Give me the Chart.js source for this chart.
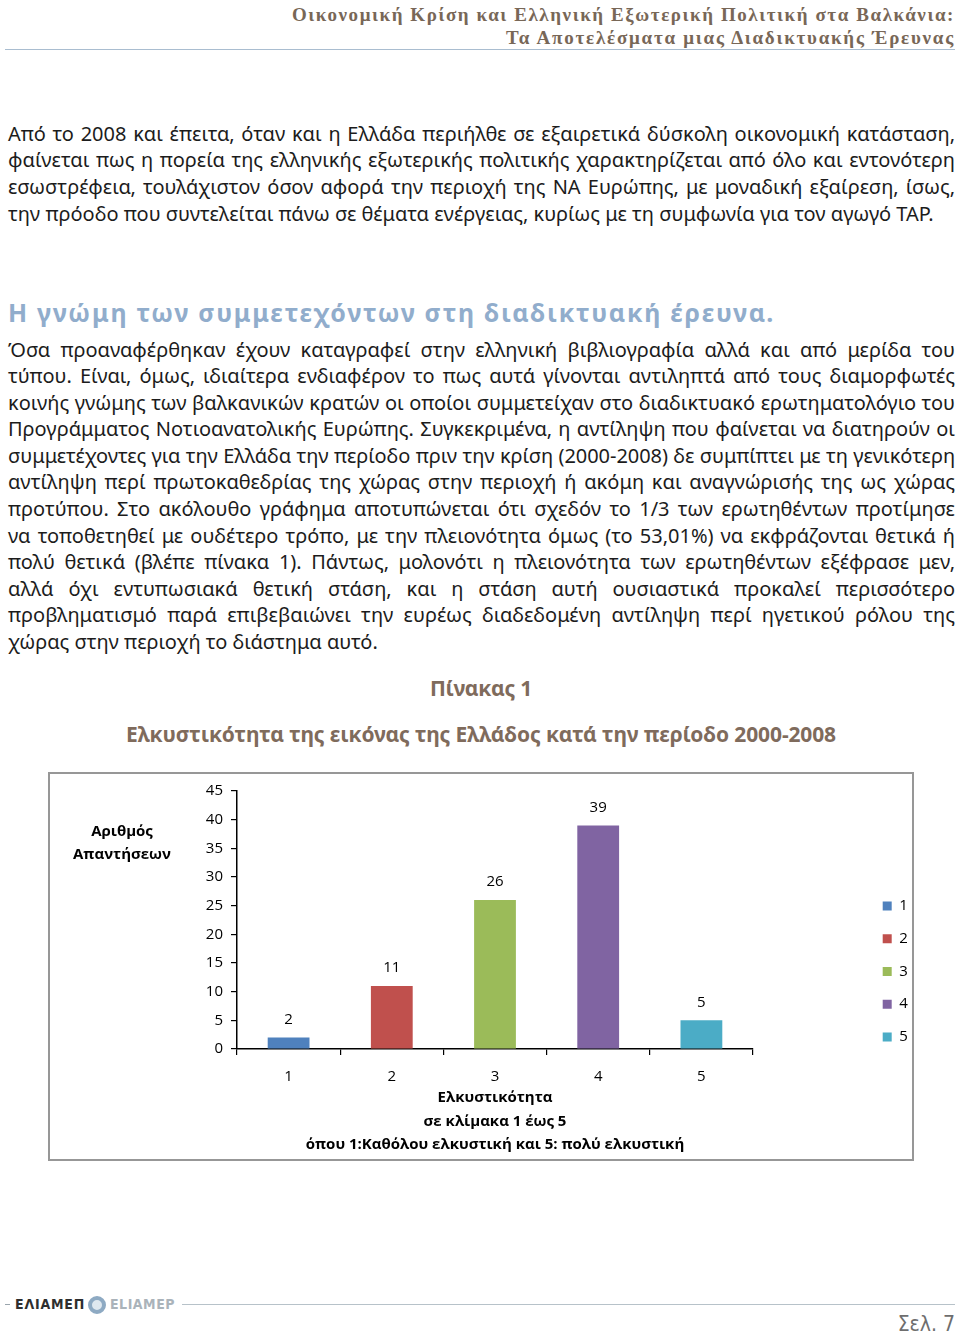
<!DOCTYPE html>
<html lang="el">
<head>
<meta charset="utf-8">
<title>Πίνακας 1</title>
<script src="https://cdn.jsdelivr.net/npm/chart.js@4/dist/chart.umd.min.js"></script>
<style>
  html, body { margin: 0; padding: 0; background: #fff; }
  body { position: relative; width: 960px; height: 1335px; overflow: hidden; }
  .abs { position: absolute; white-space: nowrap; }
  .hdr { right: 5px; font: bold 19px "Liberation Serif", "DejaVu Serif", serif; color: #786757; line-height: 23px; }
  .rule { position: absolute; height: 0; }
  .ln { position: absolute; left: 8px; width: 947px; font: 20px "Noto Sans", sans-serif; color: #1c1c1c;
        line-height: 26.6px; height: 26.6px; white-space: nowrap; text-align: justify; text-align-last: justify; }
  .ln.last { text-align-last: left; }
  .h2 { left: 8px; font: bold 25px "Noto Sans", sans-serif; color: #91adcc; line-height: 32px; }
  .cap { font: bold 21px "Noto Sans", sans-serif; color: #7f6b5c; line-height: 28px; }
  #box { position: absolute; left: 48px; top: 772px; width: 862px; height: 385px; border: 2px solid #979797; }
  #chart { display: block; }
</style>
</head>
<body>

<div class="abs hdr" data-w="663" style="top:3px">Οικονομική Κρίση και Ελληνική Εξωτερική Πολιτική στα Βαλκάνια:</div>
<div class="abs hdr" data-w="449" style="top:26px">Τα Αποτελέσματα μιας Διαδικτυακής Έρευνας</div>
<div class="rule" style="left:5px; width:950px; top:49px; border-top:1.5px solid #a9bdd0"></div>

<div class="abs h2" data-w="767" style="top:296px">Η γνώμη των συμμετεχόντων στη διαδικτυακή έρευνα.</div>

<div class="abs cap" data-w="102" data-cx="481" style="top:674px">Πίνακας 1</div>
<div class="abs cap" data-w="710" data-cx="481" style="top:720px">Ελκυστικότητα της εικόνας της Ελλάδος κατά την περίοδο 2000-2008</div>

<div id="box"><canvas id="chart" width="862" height="385"></canvas></div>

<!-- footer -->
<div class="rule" style="left:5px; width:5px; top:1304px; border-top:1px solid #9aa5ad"></div>
<div class="abs" data-w="70" style="left:15px; top:1295px; font:bold 14px 'DejaVu Sans Condensed','DejaVu Sans',sans-serif; color:#2e2e2e; line-height:18px">ΕΛΙΑΜΕΠ</div>
<div style="position:absolute; left:88px; top:1296px; width:10px; height:10px; border-radius:50%; border:4px solid #8eaac3; background:#dfe8ef"></div>
<div class="abs" data-w="65" style="left:110px; top:1295px; font:bold 14px 'DejaVu Sans Condensed','DejaVu Sans',sans-serif; color:#aab3ba; line-height:18px">ELIAMEP</div>
<div class="rule" style="left:182px; width:773px; top:1304px; border-top:1px solid #b7c2c9"></div>
<div class="abs" style="right:5px; top:1311px; font:21px 'DejaVu Sans Condensed','DejaVu Sans',sans-serif; color:#6e6e6e; line-height:26px">Σελ. 7</div>

<script>
// chart data
const categories = ['1', '2', '3', '4', '5'];
const responses = [2, 11, 26, 39, 5];
const barColors = ['#4f81bd', '#c0504d', '#9bbb59', '#8064a2', '#4bacc6'];
const yMin = 0;
const yMax = 45;
const yStep = 5;
const yTitleLines = ['Αριθμός', 'Απαντήσεων'];
const xTitleLines = ['Ελκυστικότητα', 'σε κλίμακα 1 έως 5', 'όπου 1:Καθόλου ελκυστική και 5: πολύ ελκυστική'];

// page text, one entry per printed line
const para1 = [
    'Από το 2008 και έπειτα, όταν και η Ελλάδα περιήλθε σε εξαιρετικά δύσκολη οικονομική κατάσταση,',
    'φαίνεται πως η πορεία της ελληνικής εξωτερικής πολιτικής χαρακτηρίζεται από όλο και εντονότερη',
    'εσωστρέφεια, τουλάχιστον όσον αφορά την περιοχή της ΝΑ Ευρώπης, με μοναδική εξαίρεση, ίσως,',
    'την πρόοδο που συντελείται πάνω σε θέματα ενέργειας, κυρίως με τη συμφωνία για τον αγωγό TAP.'
];
const para2 = [
    'Όσα προαναφέρθηκαν έχουν καταγραφεί στην ελληνική βιβλιογραφία αλλά και από μερίδα του',
    'τύπου. Είναι, όμως, ιδιαίτερα ενδιαφέρον το πως αυτά γίνονται αντιληπτά από τους διαμορφωτές',
    'κοινής γνώμης των βαλκανικών κρατών οι οποίοι συμμετείχαν στο διαδικτυακό ερωτηματολόγιο του',
    'Προγράμματος Νοτιοανατολικής Ευρώπης. Συγκεκριμένα, η αντίληψη που φαίνεται να διατηρούν οι',
    'συμμετέχοντες για την Ελλάδα την περίοδο πριν την κρίση (2000-2008) δε συμπίπτει με τη γενικότερη',
    'αντίληψη περί πρωτοκαθεδρίας της χώρας στην περιοχή ή ακόμη και αναγνώρισής της ως χώρας',
    'προτύπου. Στο ακόλουθο γράφημα αποτυπώνεται ότι σχεδόν το 1/3 των ερωτηθέντων προτίμησε',
    'να τοποθετηθεί με ουδέτερο τρόπο, με την πλειονότητα όμως (το 53,01%) να εκφράζονται θετικά ή',
    'πολύ θετικά (βλέπε πίνακα 1). Πάντως, μολονότι η πλειονότητα των ερωτηθέντων εξέφρασε μεν,',
    'αλλά όχι εντυπωσιακά θετική στάση, και η στάση αυτή ουσιαστικά προκαλεί περισσότερο',
    'προβληματισμό παρά επιβεβαιώνει την ευρέως διαδεδομένη αντίληψη περί ηγετικού ρόλου της',
    'χώρας στην περιοχή το διάστημα αυτό.'
];

function writeLines(lines, firstCenter, step) {
    lines.forEach((text, i) => {
        const div = document.createElement('div');
        div.className = 'ln' + (i === lines.length - 1 ? ' last' : '');
        div.style.top = (firstCenter + i * step - 13.3) + 'px';
        div.textContent = text;
        document.body.appendChild(div);
        // squeeze lines that are wider than the column
        const span = document.createElement('span');
        span.textContent = text;
        span.style.cssText = 'position:absolute;visibility:hidden;white-space:nowrap;font:20px "Noto Sans",sans-serif';
        document.body.appendChild(span);
        const w = span.getBoundingClientRect().width;
        span.remove();
        if (w > 944) div.style.letterSpacing = ((944 - w) / text.length) + 'px';
    });
}
writeLines(para1, 134, 26.7);
writeLines(para2, 350, 26.55);

// stretch headings to the printed widths
document.querySelectorAll('[data-w]').forEach(el => {
    const target = parseFloat(el.dataset.w);
    const w = el.getBoundingClientRect().width;
    el.style.letterSpacing = ((target - w) / el.textContent.length) + 'px';
    if (el.dataset.cx) {
        const w2 = el.getBoundingClientRect().width;
        el.style.left = (parseFloat(el.dataset.cx) - w2 / 2) + 'px';
    }
});

// chart
const fontFamily = '"Open Sans", "Noto Sans", sans-serif';
const chartFont = { family: fontFamily, size: 15 };
const chartBold = { family: fontFamily, size: 15, weight: 'bold', lineHeight: 1.57 };

const valueLabels = {
    id: 'valueLabels',
    afterDatasetsDraw(chart) {
        const ctx = chart.ctx;
        ctx.save();
        ctx.font = '15px ' + fontFamily;
        ctx.fillStyle = '#000';
        ctx.textAlign = 'center';
        ctx.textBaseline = 'middle';
        chart.getDatasetMeta(0).data.forEach((bar, i) => {
            ctx.fillText(String(responses[i]), bar.x, bar.y - 18);
        });
        ctx.restore();
    }
};

const yTitle = {
    id: 'yTitle',
    afterDraw(chart) {
        const ctx = chart.ctx;
        const area = chart.chartArea;
        ctx.save();
        ctx.font = 'bold 15px ' + fontFamily;
        ctx.fillStyle = '#000';
        ctx.textAlign = 'center';
        ctx.textBaseline = 'middle';
        yTitleLines.forEach((t, i) => ctx.fillText(t, area.left - 115, area.top + 41 + i * 23));
        ctx.restore();
    }
};

// legend sits against the frame's right edge, away from the plot
const legendToEdge = {
    id: 'legendToEdge',
    afterLayout(chart) {
        const l = chart.legend;
        const w = l.width;
        l.left = chart.width - 47;
        l.right = l.left + w;
        l.top -= 2;
        l.bottom -= 2;
    }
};

new Chart(document.getElementById('chart'), {
    type: 'bar',
    data: {
        labels: categories,
        datasets: [{
            data: responses,
            backgroundColor: barColors,
            borderWidth: 0,
            barPercentage: 0.405,
            categoryPercentage: 1
        }]
    },
    options: {
        responsive: false,
        animation: false,
        layout: { padding: { left: 137, top: 14, right: 0, bottom: 0 } },
        plugins: {
            legend: {
                position: 'right',
                labels: {
                    boxWidth: 9,
                    boxHeight: 9,
                    padding: 17.7,
                    color: '#000',
                    font: chartFont,
                    generateLabels: () => categories.map((c, i) => ({
                        text: c,
                        fillStyle: barColors[i],
                        strokeStyle: barColors[i],
                        lineWidth: 0,
                        hidden: false,
                        index: i
                    }))
                }
            },
            tooltip: { enabled: false }
        },
        scales: {
            x: {
                grid: { drawOnChartArea: false, tickLength: 6, color: '#000', lineWidth: 1.2 },
                border: { color: '#000', width: 1.5 },
                ticks: { color: '#000', font: chartFont, padding: 13 },
                title: {
                    display: true,
                    text: xTitleLines,
                    color: '#000',
                    font: chartBold,
                    padding: { top: 0, bottom: 2 }
                },
                afterFit: s => { s.paddingRight = 159; s.height = 110; }
            },
            y: {
                min: yMin,
                max: yMax,
                grid: { drawOnChartArea: false, tickLength: 6, color: '#000', lineWidth: 1.2 },
                border: { color: '#000', width: 1.5 },
                ticks: { stepSize: yStep, color: '#000', font: chartFont, padding: 8 },
                afterFit: s => { s.width = 50; }
            }
        }
    },
    plugins: [valueLabels, yTitle, legendToEdge]
});
</script>
</body>
</html>
